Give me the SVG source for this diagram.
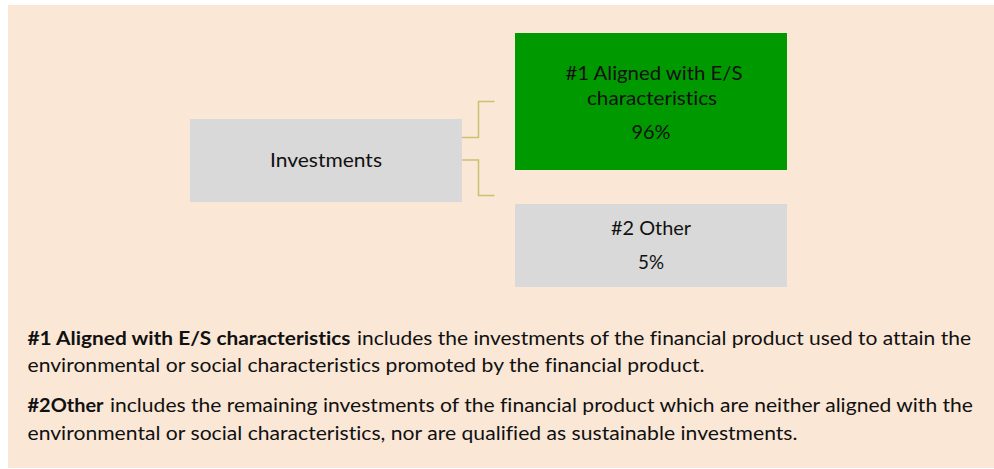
<svg xmlns="http://www.w3.org/2000/svg" width="994" height="469" viewBox="0 0 994 469">
<style>
.bg{fill:#FAE7D6}
.grey{fill:#D9D9D9}
.green{fill:#009A00}
text{font-variant-ligatures:none;font-feature-settings:"liga" 0,"dlig" 0}
.lbl{font-family:Lato,"Liberation Sans",sans-serif;font-size:20px;fill:#111;text-anchor:middle}
.body{font-family:Lato,"Liberation Sans",sans-serif;font-size:18.5px;fill:#111}
.b{font-weight:bold}
.conn{fill:none;stroke:#CDBE72;stroke-width:1.5}
</style>
<rect class="bg" x="8" y="5" width="986" height="463"/>
<g id="connectors">
<path class="conn" d="M462,137.5 H478.5 V101.5 H494.5"/>
<path class="conn" d="M462,160 H478.5 V195.5 H494.5"/>
</g>
<g id="investments">
<rect class="grey" x="190" y="119" width="272" height="83"/>
<text class="lbl" x="326" y="167" textLength="112" lengthAdjust="spacingAndGlyphs">Investments</text>
</g>
<g id="aligned">
<rect class="green" x="515" y="33" width="272" height="137"/>
<text class="lbl" x="654" y="80" textLength="177" lengthAdjust="spacingAndGlyphs">#1 Aligned with E/S</text>
<text class="lbl" x="652" y="105" textLength="130" lengthAdjust="spacingAndGlyphs">characteristics</text>
<text class="lbl" x="651" y="138.5" textLength="39" lengthAdjust="spacingAndGlyphs">96%</text>
</g>
<g id="other">
<rect class="grey" x="515" y="204" width="272" height="83"/>
<text class="lbl" x="651" y="235" textLength="80" lengthAdjust="spacingAndGlyphs">#2 Other</text>
<text class="lbl" x="651" y="268.5" textLength="26" lengthAdjust="spacingAndGlyphs">5%</text>
</g>
<g id="legend">
<text class="body b" x="27.5" y="344.5" textLength="323" lengthAdjust="spacingAndGlyphs">#1 Aligned with E/S characteristics</text>
<text class="body" x="357" y="344.5" textLength="614" lengthAdjust="spacingAndGlyphs">includes the investments of the financial product used to attain the</text>
<text class="body" x="27.5" y="372" textLength="677" lengthAdjust="spacingAndGlyphs">environmental or social characteristics promoted by the financial product.</text>
<text class="body b" x="27.5" y="412" textLength="76" lengthAdjust="spacingAndGlyphs">#2Other</text>
<text class="body" x="110" y="412" textLength="863" lengthAdjust="spacingAndGlyphs">includes the remaining investments of the financial product which are neither aligned with the</text>
<text class="body" x="27.5" y="440" textLength="770" lengthAdjust="spacingAndGlyphs">environmental or social characteristics, nor are qualified as sustainable investments.</text>
</g>
</svg>
